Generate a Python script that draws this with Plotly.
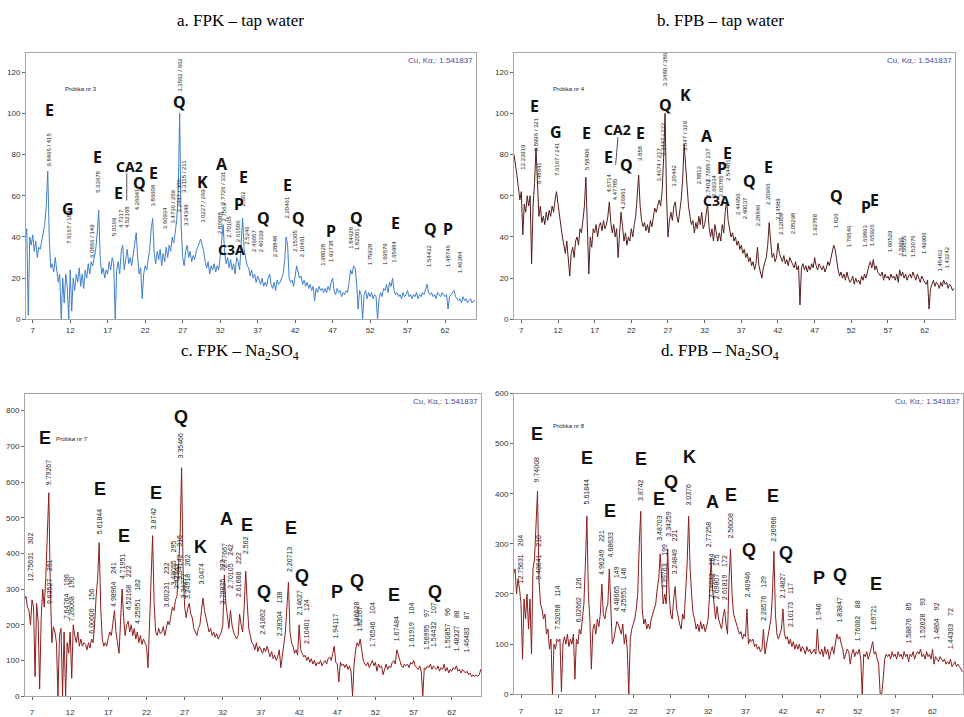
import plotly.graph_objects as go

# 2-theta grid (deg), one reading every 0.2 deg from 6 to 66
ANGLE_START = 6.0
ANGLE_STEP = 0.2
two_theta = [round(ANGLE_START + ANGLE_STEP * i, 1) for i in range(301)]

# a. FPK - tap water
counts_a = [
    38, 44, 2, 40, 36, 41, 33, 38, 30, 35,
    34, 38, 40, 46, 55, 72, 40, 25, 27, 23,
    30, 24, 18, 22, 0, 20, 8, 22, 16, 0,
    24, 4, 20, 14, 22, 18, 25, 16, 22, 15,
    24, 20, 27, 22, 28, 26, 30, 34, 42, 53,
    30, 22, 25, 20, 24, 22, 28, 24, 30, 27,
    0, 24, 28, 22, 33, 36, 24, 30, 34, 27,
    30, 26, 32, 36, 42, 30, 22, 25, 10, 22,
    26, 24, 30, 34, 44, 49, 32, 27, 33, 29,
    34, 26, 32, 28, 35, 30, 36, 33, 40, 37,
    42, 48, 60, 100, 45, 30, 26, 33, 36, 30,
    33, 28, 31, 29, 33, 35, 37, 39, 36, 33,
    28, 25, 28, 22, 26, 24, 27, 23, 26, 24,
    30, 38, 46, 32, 27, 30, 25, 29, 24, 27,
    22, 30, 28, 24, 38, 49, 34, 30, 26, 25,
    21, 24, 20, 22, 18, 21, 19, 17, 20, 16,
    18, 16, 20, 22, 17, 15, 18, 14, 19, 17,
    18, 20, 22, 28, 40, 36, 20, 18, 19, 16,
    20, 26, 23, 20, 21, 17, 19, 16, 18, 15,
    17, 14, 16, 9, 15, 13, 16, 14, 15, 13,
    15, 13, 16, 14, 18, 20, 14, 12, 15, 13,
    14, 11, 13, 12, 14, 13, 18, 24, 22, 26,
    25, 18, 5, 14, 12, 0, 12, 14, 10, 13,
    11, 13, 10, 12, 11, 0, 10, 13, 11, 15,
    14, 17, 13, 18, 16, 20, 14, 12, 13, 11,
    12, 10, 13, 11, 12, 14, 11, 12, 10, 12,
    11, 13, 10, 12, 11, 13, 12, 14, 17, 13,
    12, 13, 11, 12, 10, 13, 12, 11, 13, 12,
    11, 12, 5, 11, 12, 13, 14, 11, 10, 9,
    10, 8, 11, 9, 10, 8, 9, 10, 8, 9,
    9,
]

# b. FPB - tap water
counts_b = [
    80, 76, 70, 64, 58, 62, 41, 56, 52, 60,
    55, 60, 27, 55, 66, 83, 62, 50, 55, 47,
    50, 46, 52, 48, 53, 50, 55, 52, 58, 62,
    56, 50, 44, 40, 36, 32, 38, 28, 21, 32,
    35, 30, 38, 40, 36, 44, 42, 48, 55, 69,
    45, 22, 40, 35, 44, 42, 46, 40, 45, 47,
    43, 48, 44, 46, 50, 57, 47, 42, 46, 40,
    44, 30, 42, 52, 45, 38, 42, 36, 40, 38,
    44, 40, 46, 50, 60, 70, 55, 48, 45, 47,
    43, 46, 42, 48, 45, 50, 54, 52, 56, 58,
    55, 62, 78, 100, 60, 40, 48, 52, 48, 55,
    57, 50, 47, 52, 58, 68, 85, 75, 62, 55,
    50, 46, 48, 42, 47, 44, 50, 46, 52, 44,
    46, 50, 56, 45, 40, 44, 38, 46, 42, 38,
    42, 38, 46, 42, 52, 58, 48, 44, 40, 42,
    38, 40, 36, 38, 34, 36, 32, 34, 30, 32,
    28, 30, 26, 28, 24, 27, 35, 26, 22, 20,
    25, 28, 30, 36, 47, 38, 30, 32, 28, 30,
    37, 32, 30, 28, 31, 27, 29, 26, 30, 28,
    27, 25, 28, 24, 26, 7, 25, 27, 24, 26,
    23, 26, 24, 27, 25, 30, 26, 24, 27, 25,
    24, 26, 23, 25, 28, 26, 30, 33, 36, 34,
    28, 24, 21, 23, 20, 22, 19, 23, 20, 18,
    19, 21, 17, 20, 18, 19, 17, 21, 19, 22,
    20, 24, 26, 28, 25, 29, 24, 26, 23, 22,
    21, 23, 19, 22, 20, 21, 19, 22, 20, 21,
    19, 22, 18, 24, 21, 23, 20, 22, 19, 21,
    22, 20, 23, 21, 19, 22, 20, 18, 21, 19,
    18, 17, 19, 5, 15, 17, 19, 16, 18, 17,
    15, 18, 16, 19, 17, 18, 15, 17, 16, 14,
    15,
]

# c. FPK - Na2SO4
counts_c = [
    270, 280, 250, 240, 200, 270, 250, 55, 260, 210,
    20, 220, 300, 250, 330, 450, 570, 300, 150, 195,
    180, 150, 0, 170, 190, 0, 180, 0, 150, 120,
    180, 50, 200, 170, 150, 180, 140, 160, 140, 150,
    145, 130, 150, 135, 160, 150, 200, 280, 330, 430,
    250, 160, 140, 150, 140, 165, 180, 170, 200, 240,
    180, 150, 120, 210, 300, 220, 170, 200, 210, 180,
    200, 170, 190, 160, 180, 150, 170, 145, 160, 150,
    140, 80, 200, 300, 450, 260, 180, 170, 190, 175,
    180, 195, 170, 190, 210, 200, 230, 250, 240, 270,
    280, 350, 450, 640, 350, 250, 220, 245, 260, 230,
    220, 190, 180, 170, 190, 200, 240, 275, 240, 220,
    200, 180, 190, 170, 180, 165, 175, 160, 170, 180,
    200, 340, 260, 220, 190, 240, 200, 180, 170, 160,
    170, 230, 200, 180, 250, 350, 260, 190, 170, 150,
    145, 130, 150, 125, 140, 130, 120, 135, 125, 140,
    120, 110, 125, 105, 115, 100, 110, 130, 80, 110,
    150, 180, 250, 320, 180, 150, 140, 120, 130, 115,
    200, 130, 120, 110, 115, 100, 110, 95, 105, 90,
    100, 85, 95, 90, 100, 85, 95, 100, 90, 105,
    110, 100, 120, 140, 95, 90, 40, 95, 85, 90,
    80, 90, 75, 85, 70, 0, 90, 130, 150, 140,
    160, 130, 100, 90, 85, 95, 80, 90, 100, 85,
    95, 70, 90, 80, 85, 60, 80, 90, 75, 85,
    80, 95, 100, 90, 130, 110, 100, 85, 80, 90,
    85, 90, 80, 95, 90, 100, 85, 80, 75, 85,
    70, 0, 80, 75, 85, 80, 90, 75, 85, 80,
    75, 85, 70, 80, 75, 90, 70, 80, 65, 75,
    70, 80, 75, 85, 70, 75, 65, 75, 70, 65,
    70, 60, 65, 55, 60, 55, 60, 55, 60, 75,
    70,
]

# d. FPB - Na2SO4
counts_d = [
    240, 250, 200, 230, 210, 180, 70, 190, 150, 200,
    130, 190, 80, 250, 270, 330, 405, 230, 180, 170,
    150, 160, 120, 130, 90, 110, 0, 100, 90, 110,
    105, 110, 5, 100, 115, 100, 120, 95, 110, 100,
    120, 30, 110, 100, 130, 120, 150, 180, 260, 355,
    200, 150, 50, 130, 140, 120, 150, 135, 160, 220,
    160, 150, 170, 180, 250, 150, 100, 110, 130, 145,
    140, 130, 120, 140, 100, 120, 90, 0, 110, 130,
    140, 150, 170, 200, 300, 365, 170, 140, 150, 130,
    140, 130, 150, 160, 170, 180, 210, 230, 280, 220,
    180, 200, 180, 290, 200, 160, 150, 190, 215, 170,
    150, 140, 130, 160, 150, 200, 260, 355, 250, 200,
    160, 150, 130, 140, 125, 145, 130, 140, 125, 135,
    150, 200, 270, 210, 170, 150, 175, 150, 140, 130,
    155, 170, 140, 120, 230, 290, 200, 160, 150, 140,
    130, 120, 125, 110, 120, 115, 170, 100, 110, 105,
    110, 95, 100, 90, 95, 85, 90, 130, 80, 100,
    110, 130, 150, 200, 285, 160, 120, 110, 120, 130,
    170, 120, 110, 115, 100, 110, 95, 105, 90, 100,
    90, 100, 85, 95, 90, 80, 95, 85, 90, 80,
    85, 90, 80, 130, 85, 80, 90, 75, 95, 80,
    90, 70, 85, 95, 80, 100, 120, 110, 115, 100,
    90, 70, 80, 90, 85, 60, 80, 90, 75, 85,
    80, 90, 70, 0, 80, 75, 85, 70, 80, 90,
    105, 80, 85, 70, 60, 0, 0, 30, 70, 80,
    75, 80, 70, 85, 75, 80, 70, 85, 75, 80,
    70, 85, 75, 80, 65, 80, 75, 85, 70, 80,
    85, 80, 90, 75, 80, 70, 85, 75, 80, 70,
    90, 60, 75, 70, 65, 75, 70, 65, 70, 60,
    65, 60, 70, 55, 60, 65, 55, 60, 55, 50,
    45,
]

# phase letters: (label, 2theta, counts)
phases_a = [
    ("E", 9.2, 101.6), ("G", 11.75, 53.4), ("E", 15.6, 78.7), ("CA2", 19.85, 74.2),
    ("E", 18.4, 61.3), ("Q", 21.3, 66.4), ("E", 23.15, 71.1), ("Q", 26.57, 105.4),
    ("K", 29.63, 66.8), ("A", 32.26, 75.4), ("E", 35.15, 69), ("P", 34.52, 55.8),
    ("C3A", 33.55, 34), ("Q", 37.77, 49.4), ("E", 40.97, 65.1), ("Q", 42.48, 49),
    ("P", 46.8, 43.1), ("Q", 50.22, 49), ("E", 55.33, 46.9), ("Q", 60.1, 44.1),
    ("P", 62.45, 44.1),
]
phases_b = [
    ("E", 8.82, 103.5), ("G", 11.68, 90.8), ("E", 15.86, 90.4), ("CA2", 20.18, 92.1),
    ("E", 18.95, 79), ("Q", 21.32, 75), ("E", 23.27, 90.4), ("Q", 26.64, 104.3),
    ("K", 29.36, 108.7), ("A", 32.36, 88.9), ("E", 35.18, 80.6), ("P", 34.4, 73.5),
    ("C3A", 33.6, 57.7), ("Q", 38.14, 67.1), ("E", 40.73, 74.2), ("Q", 49.95, 60),
    ("P", 54.05, 54.5), ("E", 55.1, 58),
]
phases_c = [
    ("E", 8.75, 722.6), ("Q", 26.58, 783.6), ("E", 15.87, 579.5), ("E", 19.06, 449),
    ("E", 23.3, 570), ("K", 29.07, 419), ("A", 32.48, 496.6), ("E", 35.15, 481),
    ("E", 40.87, 472), ("Q", 37.42, 291.6), ("Q", 42.4, 337), ("P", 46.9, 291.6),
    ("Q", 49.53, 321.6), ("E", 54.42, 282.5), ("Q", 59.8, 291.6),
]
phases_d = [
    ("E", 9.18, 519), ("E", 15.77, 472), ("E", 18.9, 366), ("E", 23.04, 469),
    ("E", 25.49, 389), ("Q", 27.0, 423), ("K", 29.58, 474), ("A", 32.57, 384),
    ("E", 35.02, 397), ("E", 40.72, 396), ("Q", 37.5, 288), ("Q", 42.41, 282),
    ("P", 46.82, 232), ("Q", 49.63, 238), ("E", 54.4, 220),
]

# d-spacing peak labels: (text, 2theta, counts at label centre)
NB = "\u00a0\u00a0\u00a0\u00a0"
dspacings_a = [
    ("9.8465 / 415", 9.22, 82.6), ("7.6167 / 184", 11.76, 45), ("6.0866 / 149", 14.87, 38),
    ("5.63678", 15.76, 67), ("5.0169", 17.76, 45), ("4.7317", 18.78, 48.7),
    ("4.52168", 19.67, 49.5), ("4.26941", 20.83, 58.5), ("3.86608", 23.0, 60),
    ("3.60934", 24.74, 49), ("3.4736 / 269", 25.76, 55), ("3.3447 / 300", 26.47, 60),
    ("3.3115 / 211", 27.14, 69.5), ("3.3562 / 662", 26.7, 119), ("3.24349", 27.54, 50.5),
    ("3.0227 / 269", 29.68, 55), ("2.7726 / 331", 32.3, 64), ("2.80688", 31.9, 47),
    ("2.7563", 32.55, 52), ("2.70105", 33.2, 45), ("2.61506", 34.3, 43),
    ("2.562", 35.0, 58.5), ("2.5246", 35.55, 41), ("2.46657", 36.5, 38),
    ("2.40339", 37.46, 38), ("2.28848", 39.33, 35.5), ("2.20461", 40.97, 54.5),
    ("2.15305", 41.95, 38), ("2.10461", 42.93, 35.5), ("1.98028", 45.77, 31.6),
    ("1.93738", 46.88, 33), ("1.84628", 49.42, 39.5), ("1.82001", 50.2, 38.7),
    ("1.75928", 52.0, 31.6), ("1.69579", 54.09, 31.6), ("1.65984", 55.24, 33),
    ("1.54432", 59.87, 30.8), ("1.48746", 62.4, 30.8), ("1.46384", 64.1, 27.6),
]
dspacings_b = [
    ("12.23919", 7.23, 79), ("9.8996 / 321", 9.05, 90), ("9.48641", 9.4, 71),
    ("7.6167 / 241", 11.77, 78), ("5.58406", 15.86, 78), ("4.6714", 18.95, 66.4),
    ("4.47785", 19.73, 63), ("4.26961", 20.86, 58.5), ("3.858", 23.27, 80.6),
    ("3.4674 / 217", 25.73, 75), ("3.3447 / 222", 26.23, 87.7), ("3.3480 / 386", 26.64, 121.6),
    ("3.20442", 27.9, 69.5), ("3.047 / 329", 29.4, 89.3), ("2.8812", 31.2, 70.3),
    ("2.7685 / 237", 32.45, 75), ("2.7402", 32.36, 63.5), ("2.69334", 33.27, 64.8),
    ("2.60785", 34.27, 64.8), ("2.54481", 35.1, 72.7), ("2.44656", 36.55, 56),
    ("2.40037", 37.45, 53.7), ("2.28846", 39.27, 50.5), ("2.20966", 40.64, 60.8),
    ("2.14589", 41.9, 53.7), ("2.12009", 42.45, 46.6), ("2.05298", 44.05, 46.6),
    ("1.92788", 47.0, 45.8), ("1.826", 49.95, 48.2), ("1.76546", 51.68, 40.3),
    ("1.69863", 53.95, 40.3), ("1.65926", 54.86, 41), ("1.60529", 57.3, 38),
    ("1.5806", 58.86, 35.5), ("1.56855", 59.2, 35.5), ("1.53076", 60.4, 35.5),
    ("1.49906", 61.9, 37), ("1.45463", 64.05, 28.4), ("1.43242", 65.05, 30),
]
dspacings_c = [
    ("12.75631" + NB + "302", 6.9, 390), ("9.79267", 9.1, 625), ("9.63527" + NB + "251", 9.32, 322),
    ("7.64764" + NB + "196", 11.5, 279), ("7.26068" + NB + "190", 12.16, 272),
    ("6.00606" + NB + "156", 14.78, 238), ("5.61844", 15.8, 488), ("4.98964" + NB + "241", 17.75, 312),
    ("4.71951", 18.84, 363), ("4.52168" + NB + "222", 19.6, 303), ("4.25951" + NB + "182", 20.8, 265),
    ("3.8742", 22.87, 499), ("3.60231" + NB + "232", 24.6, 312), ("3.48055" + NB + "295", 25.49, 372),
    ("3.42242", 25.9, 335), ("3.34142" + NB + "316", 26.36, 390), ("3.34277", 26.8, 308),
    ("3.24918" + NB + "262", 27.37, 335), ("3.35466", 26.58, 701), ("3.0474", 29.25, 343),
    ("2.77667", 32.26, 394), ("2.79835" + NB + "232", 32.05, 320), ("2.70105" + NB + "242", 33.05, 365),
    ("2.61688" + NB + "222", 34.14, 340), ("2.562", 34.97, 425), ("2.41862", 37.16, 207),
    ("2.28304" + NB + "138", 39.39, 230), ("2.20713", 40.83, 382), ("2.14627", 42.0, 260),
    ("2.10401" + NB + "124", 42.88, 210), ("1.94117", 46.73, 196), ("1.86628", 49.44, 230),
    ("1.82167", 49.96, 217), ("1.76546" + NB + "104", 51.7, 200), ("1.67484", 54.68, 190),
    ("1.61919" + NB + "104", 56.74, 200), ("1.56995" + NB + "97", 58.7, 187),
    ("1.54432" + NB + "107", 59.7, 200), ("1.50857" + NB + "96", 61.46, 190),
    ("1.48327" + NB + "88", 62.55, 185), ("1.46483" + NB + "87", 63.95, 180),
]
dspacings_d = [
    ("12.75631" + NB + "204", 6.87, 269), ("9.74008", 9.09, 448), ("9.48641" + NB + "210", 9.32, 273),
    ("7.52098" + NB + "114", 11.77, 172), ("6.02662" + NB + "126", 14.66, 188), ("5.61844", 15.77, 404),
    ("4.96249" + NB + "221", 17.82, 284), ("4.68633", 18.9, 297), ("4.48665" + NB + "149", 19.78, 211),
    ("4.25951" + NB + "146", 20.8, 208), ("3.8742", 22.99, 407), ("3.48703", 25.49, 331),
    ("3.39763" + NB + "199", 26.15, 255), ("3.34259", 26.69, 339), ("3.24849" + NB + "221", 27.5, 284),
    ("3.0376", 29.36, 399), ("2.77258", 32.17, 318), ("2.74632" + NB + "184", 32.39, 235),
    ("2.69807" + NB + "175", 33.15, 235), ("2.61819" + NB + "172", 34.26, 234), ("2.56008", 35.02, 336),
    ("2.40946", 37.29, 219), ("2.28576" + NB + "129", 39.38, 191), ("2.20966", 40.81, 328),
    ("2.14827", 42.06, 216), ("2.10173" + NB + "117", 42.95, 178), ("1.946", 46.73, 165),
    ("1.83847", 49.63, 169), ("1.76082" + NB + "88", 51.99, 147), ("1.69721", 54.08, 152),
    ("1.58876" + NB + "85", 58.85, 143), ("1.52628" + NB + "93", 60.63, 151),
    ("1.4864" + NB + "92", 62.41, 146), ("1.44303" + NB + "72", 64.4, 131),
]

W, H = 964, 717

panels = [
    dict(counts=counts_a, color="#3f7fcf", box=(26, 476, 50, 323), xr=[6.1, 66.13], yr=[0, 129.4], dtick=20,
         phases=phases_a, dsp=dspacings_a, sample=("Próbka nr 3", 11.1, 111.7),
         lfont="Noto Sans", lsize=16, dsize=6, title="a. FPK – tap water", tpos=(240, 17), standoff=0),
    dict(counts=counts_b, color="#561d1d", box=(514, 955, 50, 323), xr=[6.0, 66.14], yr=[0, 129.4], dtick=20,
         phases=phases_b, dsp=dspacings_b, sample=("Próbka nr 4", 11.1, 111.7),
         lfont="Noto Sans", lsize=16, dsize=6, title="b. FPB – tap water", tpos=(720, 17), standoff=0),
    dict(counts=counts_c, color="#8e1d1d", box=(25, 481, 399, 709), xr=[6.08, 65.83], yr=[0, 848], dtick=100,
         phases=phases_c, dsp=dspacings_c, sample=("Próbka nr 7", 9.9, 720),
         lfont="Liberation Sans", lsize=18, dsize=7, title="c. FPK – Na<sub>2</sub>SO<sub>4</sub>",
         tpos=(240, 356), standoff=5),
    dict(counts=counts_d, color="#8e1d1d", box=(514, 963, 399, 707), xr=[6.06, 66.07], yr=[0, 600], dtick=100,
         phases=phases_d, dsp=dspacings_d, sample=("Próbka nr 8", 11.0, 536),
         lfont="Liberation Sans", lsize=18, dsize=7, title="d. FPB – Na<sub>2</sub>SO<sub>4</sub>",
         tpos=(720, 356), standoff=6),
]

fig = go.Figure()
annotations = []
shapes = []

for i, p in enumerate(panels, start=1):
    sfx = "" if i == 1 else str(i)
    xa, ya = "x" + sfx, "y" + sfx
    x0, x1, y0, y1 = p["box"]
    fig.add_trace(go.Scatter(x=two_theta, y=p["counts"], mode="lines",
                             line=dict(color=p["color"], width=1), xaxis=xa, yaxis=ya,
                             showlegend=False, hoverinfo="skip"))
    axis_style = dict(showgrid=False, zeroline=False, showline=True, mirror=True,
                      linecolor="#a8a8a8", linewidth=1, ticks="outside", ticklen=3,
                      tickcolor="#666", tickfont=dict(family="Liberation Sans", size=8, color="#333"))
    fig.update_layout(**{
        "xaxis" + sfx: dict(domain=[x0 / W, x1 / W], range=p["xr"], anchor=ya,
                            tickvals=list(range(7, 66, 5)), ticklabelstandoff=p["standoff"], **axis_style),
        "yaxis" + sfx: dict(domain=[1 - y1 / H, 1 - y0 / H], range=p["yr"], anchor=xa,
                            dtick=p["dtick"], **axis_style),
    })

    for label, tt, cnt in p["phases"]:
        size = p["lsize"] - 2 if len(label) > 1 else p["lsize"]
        annotations.append(dict(x=tt, y=cnt, xref=xa, yref=ya, text="<b>%s</b>" % label,
                                showarrow=False, font=dict(family=p["lfont"], size=size, color="#111")))
    for label, tt, cnt in p["dsp"]:
        annotations.append(dict(x=tt, y=cnt, xref=xa, yref=ya, text=label, textangle=-90,
                                showarrow=False, xanchor="center", yanchor="middle",
                                font=dict(family="Liberation Sans", size=p["dsize"], color="#222")))
    name, stt, scnt = p["sample"]
    annotations.append(dict(x=stt, y=scnt, xref=xa, yref=ya, text=name, showarrow=False,
                            xanchor="left", font=dict(family="Liberation Sans", size=6, color="#222")))
    annotations.append(dict(x=x1 / W - 1 / W, y=1 - y0 / H - 1 / H, xref="paper", yref="paper",
                            text="Cu, Kα,: 1.541837", showarrow=False, xanchor="right", yanchor="top",
                            font=dict(family="Liberation Sans", size=8, color="#4b4b9c")))
    annotations.append(dict(x=p["tpos"][0] / W, y=1 - p["tpos"][1] / H, xref="paper", yref="paper",
                            text=p["title"], showarrow=False, xanchor="center", yanchor="middle",
                            font=dict(family="Liberation Serif", size=17, color="#000")))

# marker lines pointing from CA2 to its peak
shapes.append(dict(type="line", xref="x", yref="y", x0=19.54, y0=57.7, x1=19.54, y1=71,
                   line=dict(color="#555", width=1)))
shapes.append(dict(type="line", xref="x2", yref="y2", x0=20.18, y0=88.5, x1=19.86, y1=75,
                   line=dict(color="#555", width=1)))

fig.update_layout(width=W, height=H, autosize=False, margin=dict(l=0, r=0, t=0, b=0),
                  paper_bgcolor="white", plot_bgcolor="white",
                  annotations=annotations, shapes=shapes)

# the page body has a default margin; drop it so the figure sits at the window corner
fig.write_html("out.html", config={"displayModeBar": False},
               post_script="document.body.style.margin = '0px';")
